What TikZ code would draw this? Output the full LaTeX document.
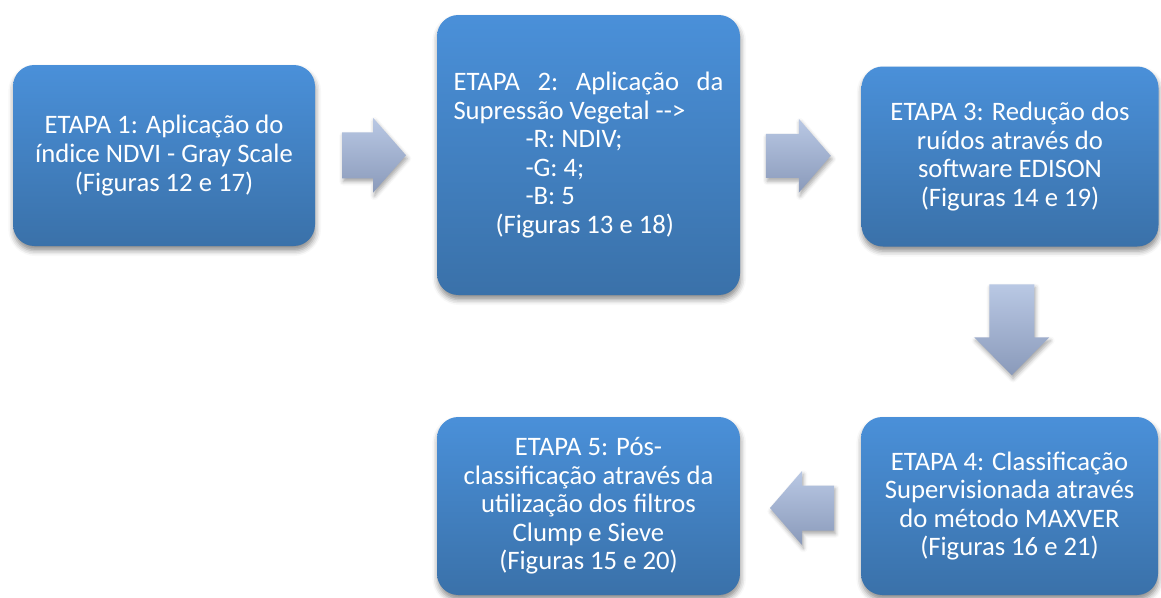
\documentclass[tikz,border=0pt]{standalone}
\usepackage{fontspec}
\setmainfont{Carlito}[Ligatures=TeXOff]
\usetikzlibrary{calc,shadows.blur}

\definecolor{boxtop}{HTML}{4A90D9}
\definecolor{boxbot}{HTML}{3A71A9}
\definecolor{arrtop}{HTML}{B9C8E4}
\definecolor{arrbot}{HTML}{8A9ABA}

\tikzset{
  stepbox/.style={
    rectangle, rounded corners=16pt, inner sep=0pt,
    top color=boxtop, bottom color=boxbot,
    text=white, align=center,
    font=\fontsize{20pt}{21.4pt}\selectfont,
    blur shadow={shadow xshift=0.5pt, shadow yshift=-3.5pt,
                 shadow blur radius=4pt, shadow opacity=45}},
  flowarrow/.style={
    top color=arrtop, bottom color=arrbot,
    blur shadow={shadow xshift=1pt, shadow yshift=-2.5pt,
                 shadow blur radius=3pt, shadow opacity=35}}
}

\begin{document}
\begin{tikzpicture}[x=0.75pt, y=-0.75pt]
  \useasboundingbox (0,0) rectangle (1161,597);

  % process steps
  \node[stepbox, minimum width=226.5pt, minimum height=135.75pt] (b1) at (164,155.5)
    {ETAPA 1: Aplicação do\\índice NDVI - Gray Scale\\(Figuras 12 e 17)};

  \node[stepbox, minimum width=227.25pt, minimum height=210pt, align=left] (b2) at (588.5,155)
    {\hbox to 202.5pt{ETAPA\hfill 2:\hfill Aplicação\hfill da}\\
     Supressão Vegetal -->\\
     \hspace*{54pt}-R: NDIV;\\
     \hspace*{54pt}-G: 4;\\
     \hspace*{54pt}-B: 5\\
     \hspace*{31.5pt}(Figuras 13 e 18)};

  \node[stepbox, minimum width=222.75pt, minimum height=135pt] (b3) at (1010,156.5)
    {ETAPA 3: Redução dos\\ruídos através do\\software EDISON\\(Figuras 14 e 19)};

  \node[stepbox, minimum width=222.75pt, minimum height=133.5pt] (b4) at (1009.5,506)
    {ETAPA 4: Classificação\\Supervisionada através\\do método MAXVER\\(Figuras 16 e 21)};

  \node[stepbox, minimum width=227.25pt, minimum height=133.5pt] (b5) at (588.5,506)
    {ETAPA 5: Pós-\\classificação através da\\utilização dos filtros\\Clump e Sieve\\(Figuras 15 e 20)};

  % block arrows between the steps
  \coordinate (a1) at ($(b1.east)!0.5!(b2.west)+(-2,0)$);
  \coordinate (a2) at ($(b2.east)!0.5!(b3.west)+(-2.5,0)$);
  \coordinate (a3) at ($(b3.south)!0.5!(b4.north)+(2,-2)$);
  \coordinate (a4) at ($(b5.east)!0.5!(b4.west)+(1.5,2)$);

  \path[flowarrow] ([shift={(-32,-23)}]a1) -- ([shift={(-1,-23)}]a1)
    -- ([shift={(-1,-37.5)}]a1) -- ([shift={(32,0)}]a1)
    -- ([shift={(-1,37.5)}]a1) -- ([shift={(-1,23)}]a1)
    -- ([shift={(-32,23)}]a1) -- cycle;

  \path[flowarrow] ([shift={(-32.5,-22)}]a2) -- ([shift={(0.5,-22)}]a2)
    -- ([shift={(0.5,-37)}]a2) -- ([shift={(32.5,0)}]a2)
    -- ([shift={(0.5,37)}]a2) -- ([shift={(0.5,22)}]a2)
    -- ([shift={(-32.5,22)}]a2) -- cycle;

  \path[flowarrow] ([shift={(-22.5,-45.5)}]a3) -- ([shift={(22.5,-45.5)}]a3)
    -- ([shift={(22.5,7.5)}]a3) -- ([shift={(37.5,7.5)}]a3)
    -- ([shift={(0,45.5)}]a3) -- ([shift={(-37.5,7.5)}]a3)
    -- ([shift={(-22.5,7.5)}]a3) -- cycle;

  \path[flowarrow] ([shift={(32,-22.5)}]a4) -- ([shift={(0,-22.5)}]a4)
    -- ([shift={(0,-37)}]a4) -- ([shift={(-32,0)}]a4)
    -- ([shift={(0,37)}]a4) -- ([shift={(0,22.5)}]a4)
    -- ([shift={(32,22.5)}]a4) -- cycle;
\end{tikzpicture}
\end{document}
